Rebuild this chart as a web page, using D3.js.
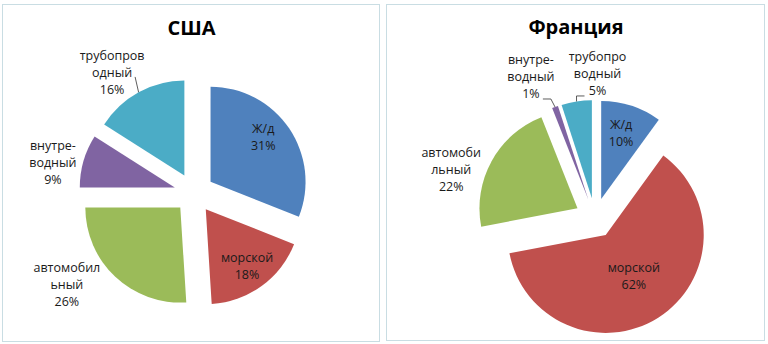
<!DOCTYPE html>
<html><head><meta charset="utf-8">
<script src="https://cdn.jsdelivr.net/npm/d3@7"></script>
<style>
html,body{margin:0;padding:0;background:#fff;}
svg{display:block;}
text{font-family:"Open Sans","Noto Sans",sans-serif;}
</style></head>
<body>
<svg id="c" width="768" height="344"></svg>
<script>
// ---- data ----
const categories = ["Ж/д", "морской", "автомобильный", "внутреводный", "трубопроводный"];
const usaValues = [31, 18, 26, 9, 16];
const franceValues = [10, 62, 22, 1, 5];
const usaLabelLines = [["Ж/д"], ["морской"], ["автомобил", "ьный"], ["внутре-", "водный"], ["трубопров", "одный"]];
const franceLabelLines = [["Ж/д"], ["морской"], ["автомоби", "льный"], ["внутре-", "водный"], ["трубопро", "водный"]];
const chartTitles = ["США", "Франция"];

// ---- styles / layout (kept apart from data) ----
const colors = ["#4F81BD", "#C0504D", "#9BBB59", "#8064A2", "#4BACC6"];
const charts = [
  {title: chartTitles[0], values: usaValues, lines: usaLabelLines,
   box: [2, 4, 379, 341], cx: 194, cy: 193, r: 95, explode: 20, titleY: 35,
   // [radius factor, angle shift in degrees]
   labelPos: [[0.94, -5], [0.95, 0], [1.65, 11], [1.52, -4], [1.53, -5.5]],
   leaders: {4: [23, 4]}},
  {title: chartTitles[1], values: franceValues, lines: franceLabelLines,
   box: [386, 4, 764, 340], cx: 595, cy: 218, r: 98, explode: 20, titleY: 34,
   labelPos: [[0.91, -1], [0.71, -1.5], [1.55, -10], [1.59, -4.5], [1.47, 10]],
   leaders: {3: [12, 23, 20], 4: [-13, 22, -20]}}
];

const svg = d3.select("#c");

charts.forEach(ch => {
  const [x0, y0, x1, y1] = ch.box;
  svg.append("rect").attr("x", x0 + 0.5).attr("y", y0 + 0.5)
    .attr("width", x1 - x0).attr("height", y1 - y0)
    .attr("fill", "#fff").attr("stroke", "#c9dde3").attr("stroke-width", 1);

  svg.append("text").attr("x", (x0 + x1) / 2 + 1).attr("y", ch.titleY)
    .attr("text-anchor", "middle").attr("font-size", 20).attr("font-weight", "bold")
    .attr("fill", "#000").text(ch.title);

  const pie = d3.pie().sort(null).value(d => d)(ch.values);
  const arc = d3.arc().innerRadius(0).outerRadius(ch.r);
  const g = svg.append("g").attr("transform", `translate(${ch.cx},${ch.cy})`);
  const total = d3.sum(ch.values);

  pie.forEach((p, i) => {
    const mid = (p.startAngle + p.endAngle) / 2;
    const dx = ch.explode * Math.sin(mid), dy = -ch.explode * Math.cos(mid);
    g.append("path").attr("d", arc(p))
      .attr("transform", `translate(${dx},${dy})`)
      .attr("fill", colors[i]);

    // label
    const [k, sh] = ch.labelPos[i];
    const a = mid + sh * Math.PI / 180;
    const lx = k * ch.r * Math.sin(a), ly = -k * ch.r * Math.cos(a);
    const lines = ch.lines[i].concat([Math.round(p.value / total * 100) + "%"]);
    const lh = 17;
    const t = g.append("text").attr("text-anchor", "middle")
      .attr("font-size", 12.5).attr("fill", "#1a1a1a");
    lines.forEach((s, j) => {
      t.append("tspan").attr("x", lx)
        .attr("y", ly + (j - (lines.length - 1) / 2) * lh + 4.5).text(s);
    });

    // leader line
    const ld = ch.leaders[i];
    if (ld) {
      const ex = dx + ch.r * Math.sin(mid), ey = dy - ch.r * Math.cos(mid);
      const sx = lx + ld[0], sy = ly + ld[1];
      let pts = [[sx, sy]];
      if (ld.length > 2) pts.push([sx + ld[2] * 0.4, sy]);
      pts.push([ex, ey]);
      g.append("path").attr("d", d3.line()(pts))
        .attr("fill", "none").attr("stroke", "#333").attr("stroke-width", 0.8);
    }
  });
});
</script>
</body></html>
